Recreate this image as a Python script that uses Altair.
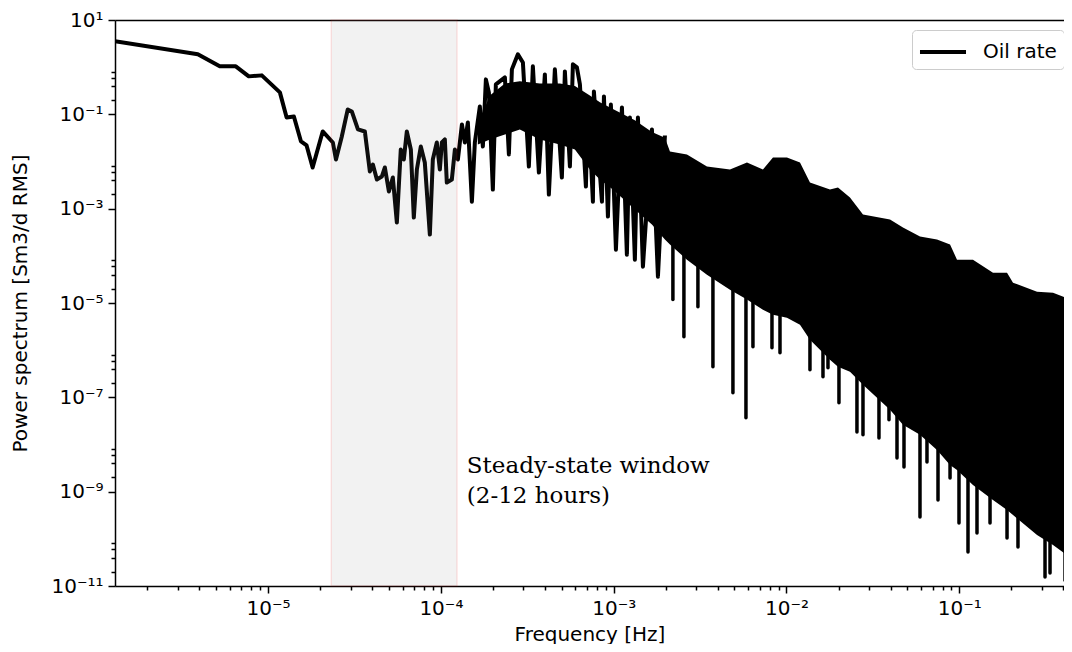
import altair as alt
import pandas as pd

# ---------------- data ----------------
line_freq = [1.30e-6, 3.92e-6, 5.25e-6, 6.50e-6, 7.73e-6, 9.19e-6, 1.17e-5, 1.28e-5, 1.41e-5, 1.55e-5,
             1.67e-5, 1.81e-5, 2.07e-5, 2.37e-5, 2.47e-5, 2.67e-5, 2.89e-5, 3.05e-5, 3.31e-5, 3.63e-5,
             3.88e-5, 4.04e-5, 4.26e-5, 4.55e-5, 4.74e-5, 5.00e-5, 5.27e-5, 5.56e-5, 5.86e-5, 6.10e-5,
             6.35e-5, 6.70e-5, 6.97e-5, 7.26e-5, 7.65e-5, 8.07e-5, 8.63e-5, 8.98e-5, 9.47e-5, 9.86e-5,
             1.013e-4, 1.054e-4, 1.082e-4, 1.157e-4, 1.205e-4, 1.254e-4, 1.323e-4, 1.376e-4, 1.432e-4, 1.511e-4,
             1.572e-4, 1.680e-4, 1.749e-4, 1.821e-4, 1.895e-4, 1.998e-4, 2.080e-4, 2.346e-4, 2.474e-4, 2.575e-4,
             2.789e-4, 2.982e-4, 3.229e-4, 3.406e-4, 3.690e-4, 3.996e-4, 4.215e-4, 4.566e-4, 5.013e-4, 5.218e-4,
             5.579e-4, 5.806e-4, 6.124e-4, 6.374e-4, 6.905e-4, 7.09e-4, 7.58e-4, 7.68e-4, 8.55e-4, 8.78e-4,
             9.26e-4, 9.63e-4, 1.030e-3, 1.116e-3, 1.192e-3, 1.241e-3, 1.326e-3, 1.381e-3, 1.476e-3, 1.664e-3,
             1.803e-3, 1.979e-3]
line_power = [3.53, 1.87, 1.04, 1.04, 0.638, 0.670, 0.292, 0.0859, 0.0902, 0.0266,
              0.0219, 0.00746, 0.0433, 0.0253, 0.01103, 0.0339, 0.127, 0.115, 0.0478, 0.0433,
              0.00613, 0.00864, 0.00415, 0.00480, 0.00746, 0.00231, 0.00457, 5.07e-4, 0.0180, 0.01103,
              0.0433, 0.0180, 6.47e-4, 0.00676, 0.0208, 0.00952, 2.82e-4, 0.01103, 0.0253, 0.00676,
              0.0253, 0.0293, 0.00358, 0.00415, 0.0180, 0.01103, 0.0611, 0.0253, 0.0673, 0.00141,
              0.0253, 0.147, 0.0208, 0.551, 0.292, 0.00254, 0.431, 0.607, 0.0141, 0.898,
              1.87, 1.26, 0.00783, 1.04, 0.00584, 0.703, 0.00199, 0.898, 0.00457, 0.814,
              0.00783, 1.15, 0.990, 0.431, 0.00294, 0.228, 0.00141, 0.306, 0.00141, 0.240,
              6.80e-4, 0.162, 1.35e-4, 0.140, 1.06e-4, 0.0859, 8.30e-5, 0.0859, 5.90e-5, 0.0478,
              3.62e-5, 0.0356]

# dense part of the spectrum: upper envelope and lower edge of the filled band
band_freq = [1.636e-4, 1.920e-4, 2.346e-4, 2.864e-4, 3.740e-4, 4.882e-4, 5.963e-4, 7.28e-4, 8.32e-4, 9.89e-4,
             1.326e-3, 1.664e-3, 1.979e-3, 2.116e-3, 2.654e-3, 3.464e-3, 4.709e-3, 5.905e-3, 7.306e-3, 8.35e-3,
             1.006e-2, 1.197e-2, 1.367e-2, 1.785e-2, 1.986e-2, 2.330e-2, 2.771e-2, 3.972e-2, 4.722e-2, 5.923e-2,
             7.43e-2, 8.84e-2, 9.70e-2, 0.1200, 0.1567, 0.1889, 0.2046, 0.2818, 0.3487, 0.4432]
band_top = [0.0611, 0.250, 0.450, 0.500, 0.450, 0.450, 0.400, 0.250, 0.180, 0.130,
            0.0750, 0.0420, 0.0320, 0.0163, 0.0141, 0.00783, 0.00676, 0.00952, 0.00676, 0.01216,
            0.01216, 0.00952, 0.00358, 0.00254, 0.00281, 0.00172, 7.49e-4, 5.87e-4, 3.97e-4, 2.56e-4,
            2.21e-4, 1.73e-4, 8.30e-5, 8.30e-5, 4.40e-5, 4.40e-5, 2.70e-5, 1.74e-5, 1.65e-5, 1.18e-5]
band_bottom = [0.0230, 0.0293, 0.0374, 0.0478, 0.0293, 0.0230, 0.0180, 0.00676, 0.00415, 0.00254,
               9.57e-4, 4.60e-4, 2.21e-4, 1.73e-4, 8.30e-5, 3.99e-5, 1.92e-5, 1.18e-5, 7.21e-6, 5.64e-6,
               4.87e-6, 3.46e-6, 1.66e-6, 6.26e-7, 4.44e-7, 3.48e-7, 1.84e-7, 5.43e-8, 2.61e-8, 1.60e-8,
               7.68e-9, 3.69e-9, 2.89e-9, 1.39e-9, 6.67e-10, 4.09e-10, 3.20e-10, 1.20e-10, 7.38e-11, 3.91e-11]

# deep downward spikes below the band
spike_freq = [2.201e-3, 2.549e-3, 3.072e-3, 3.752e-3, 4.898e-3, 5.826e-3, 6.395e-3, 8.24e-3, 9.17e-3, 1.367e-2,
              1.626e-2, 1.738e-2, 2.012e-2, 2.557e-2, 2.771e-2, 3.429e-2, 3.918e-2, 4.360e-2, 4.786e-2, 5.923e-2,
              6.501e-2, 7.53e-2, 8.84e-2, 9.96e-2, 0.1123, 0.1266, 0.1506, 0.1889, 0.2186, 0.3134, 0.3350, 0.4091]
spike_top = [2.82e-4, 1.73e-4, 1.06e-4, 6.50e-5, 3.12e-5, 1.92e-5, 1.92e-5, 1.18e-5, 9.20e-6, 3.46e-6,
             1.66e-6, 1.30e-6, 7.99e-7, 4.90e-7, 3.84e-7, 1.84e-7, 1.13e-7, 6.93e-8, 5.43e-8, 3.33e-8,
             2.61e-8, 1.60e-8, 7.68e-9, 6.01e-9, 3.69e-9, 2.89e-9, 1.77e-9, 8.51e-10, 5.22e-10, 1.96e-10,
             1.96e-10, 9.43e-11]
spike_bottom = [1.18e-5, 1.93e-6, 8.34e-6, 4.44e-7, 1.25e-7, 3.67e-8, 1.18e-6, 1.12e-6, 8.81e-7, 3.84e-7,
                2.72e-7, 4.23e-7, 7.64e-8, 1.85e-8, 1.60e-8, 1.38e-8, 3.33e-8, 5.19e-9, 3.35e-9, 2.90e-10,
                4.27e-9, 6.67e-10, 1.95e-9, 2.17e-10, 5.24e-11, 1.33e-10, 2.17e-10, 1.04e-10, 6.70e-11, 1.55e-11,
                1.88e-11, 1.33e-11]

# steady-state window (2-12 hours)
window_lo = [2.32e-5]
window_hi = [1.24e-4]

annot_text = ["Steady-state window", "(2-12 hours)"]
annot_freq = [1.413e-4, 1.413e-4]
annot_power = [2.49e-9, 5.75e-10]

x_major = [1e-5, 1e-4, 1e-3, 1e-2, 1e-1]
x_minor = [2e-6, 3e-6, 4e-6, 5e-6, 6e-6, 7e-6, 8e-6, 9e-6,
           2e-5, 3e-5, 4e-5, 5e-5, 6e-5, 7e-5, 8e-5, 9e-5,
           2e-4, 3e-4, 4e-4, 5e-4, 6e-4, 7e-4, 8e-4, 9e-4,
           2e-3, 3e-3, 4e-3, 5e-3, 6e-3, 7e-3, 8e-3, 9e-3,
           2e-2, 3e-2, 4e-2, 5e-2, 6e-2, 7e-2, 8e-2, 9e-2,
           2e-1, 3e-1, 4e-1]
y_major = [1e1, 1e-1, 1e-3, 1e-5, 1e-7, 1e-9, 1e-11]
y_minor = [2e-1, 4e-1, 6e-1, 8e-1,
           2e-3, 4e-3, 6e-3, 8e-3,
           2e-5, 4e-5, 6e-5, 8e-5,
           2e-7, 4e-7, 6e-7, 8e-7,
           2e-9, 4e-9, 6e-9, 8e-9,
           2e-11, 4e-11, 6e-11, 8e-11]

series_name = "Oil rate"

# ---------------- frames ----------------
line_df = pd.DataFrame({"f": line_freq, "p": line_power, "series": series_name})
band_df = pd.DataFrame({"f": band_freq, "top": band_top, "bot": band_bottom})
spike_df = pd.DataFrame({"f": spike_freq, "top": spike_top, "bot": spike_bottom})
win_df = pd.DataFrame({"lo": window_lo, "hi": window_hi})
txt_df = pd.DataFrame({"f": annot_freq, "p": annot_power, "t": annot_text})

# the page only has 1056 px of usable width, so the plot stops at the right edge of it
W, H = 949, 566
xscale = alt.Scale(type="log", domain=[1.30e-6, 0.4036], nice=False)
yscale = alt.Scale(type="log", domain=[1e-11, 10], nice=False)

sup = "['⁰','¹','²','³','⁴','⁵','⁶','⁷','⁸','⁹','¹⁰','¹¹'][abs(round(log(datum.value)/LN10))]"
label_expr = "'10' + (datum.value < 1 ? '⁻' : '') + " + sup

x_axis_major = alt.Axis(values=x_major, labelExpr=label_expr, tickSize=7, orient="bottom",
                        labelPadding=5, title="Frequency [Hz]",
                        titleY=54, titleBaseline="alphabetic")
x_axis_minor = alt.Axis(values=x_minor, labels=False, tickSize=4, domain=False,
                        orient="bottom", title=None)
x_axis_top = alt.Axis(orient="top", ticks=False, labels=False, domain=True, title=None)
y_axis_major = alt.Axis(values=y_major, labelExpr=label_expr, tickSize=7, orient="left",
                        labelPadding=5, title="Power spectrum [Sm3/d RMS]",
                        titleX=-95, titleBaseline="middle")
y_axis_minor = alt.Axis(values=y_minor, labels=False, tickSize=4, domain=False,
                        orient="left", title=None)

band = alt.Chart(band_df).mark_area(color="black", clip=True).encode(
    x=alt.X("f:Q", scale=xscale, axis=x_axis_major),
    y=alt.Y("top:Q", scale=yscale, axis=y_axis_major),
    y2="bot:Q",
)

spikes = alt.Chart(spike_df).mark_rule(color="black", strokeWidth=3.5, strokeCap="round",
                                       clip=True).encode(
    x=alt.X("f:Q", scale=xscale, axis=x_axis_minor),
    y=alt.Y("top:Q", scale=yscale, axis=y_axis_minor),
    y2="bot:Q",
)

line = alt.Chart(line_df).mark_line(strokeWidth=4, strokeJoin="round", clip=True).encode(
    x=alt.X("f:Q", scale=xscale, axis=x_axis_top),
    y=alt.Y("p:Q", scale=yscale, axis=None),
    color=alt.Color("series:N", scale=alt.Scale(domain=[series_name], range=["black"]),
                    legend=alt.Legend(title=None, orient="none", legendX=797, legendY=10,
                                      symbolType="M-1.77,0H1.77", symbolStrokeWidth=4,
                                      symbolSize=676, symbolOffset=9,
                                      labelFontSize=20, labelFont="DejaVu Sans", labelOffset=25,
                                      padding=7, fillColor="white", strokeColor="#cccccc",
                                      cornerRadius=4, labelColor="black")),
)

span = alt.Chart(win_df).mark_rect(fill="#808080", fillOpacity=0.1, stroke="red",
                                   strokeOpacity=0.1, strokeWidth=1.5).encode(
    x=alt.X("lo:Q", scale=xscale, axis=None),
    x2="hi:Q",
    y=alt.value(0),
    y2=alt.value(H),
)

text = alt.Chart(txt_df).mark_text(align="left", baseline="alphabetic", font="DejaVu Serif",
                                   fontSize=23, color="black").encode(
    x=alt.X("f:Q", scale=xscale, axis=None),
    y=alt.Y("p:Q", scale=yscale, axis=None),
    text="t:N",
)

chart = alt.layer(band, spikes, line, span, text).resolve_axis(
    x="independent", y="independent"
).properties(
    width=W, height=H,
    autosize=alt.AutoSizeParams(type="none"),
    padding={"left": 107, "top": 12, "right": 0, "bottom": 58},
).configure_view(strokeWidth=0).configure_axis(
    grid=False, domainColor="black", tickColor="black", labelColor="black", titleColor="black",
    labelFont="DejaVu Sans", titleFont="DejaVu Sans", titleFontWeight="normal",
    labelFontSize=20, titleFontSize=20, domainWidth=1.5, tickWidth=1.5,
)

chart.save("out.html", embed_options={"renderer": "svg", "actions": False})
